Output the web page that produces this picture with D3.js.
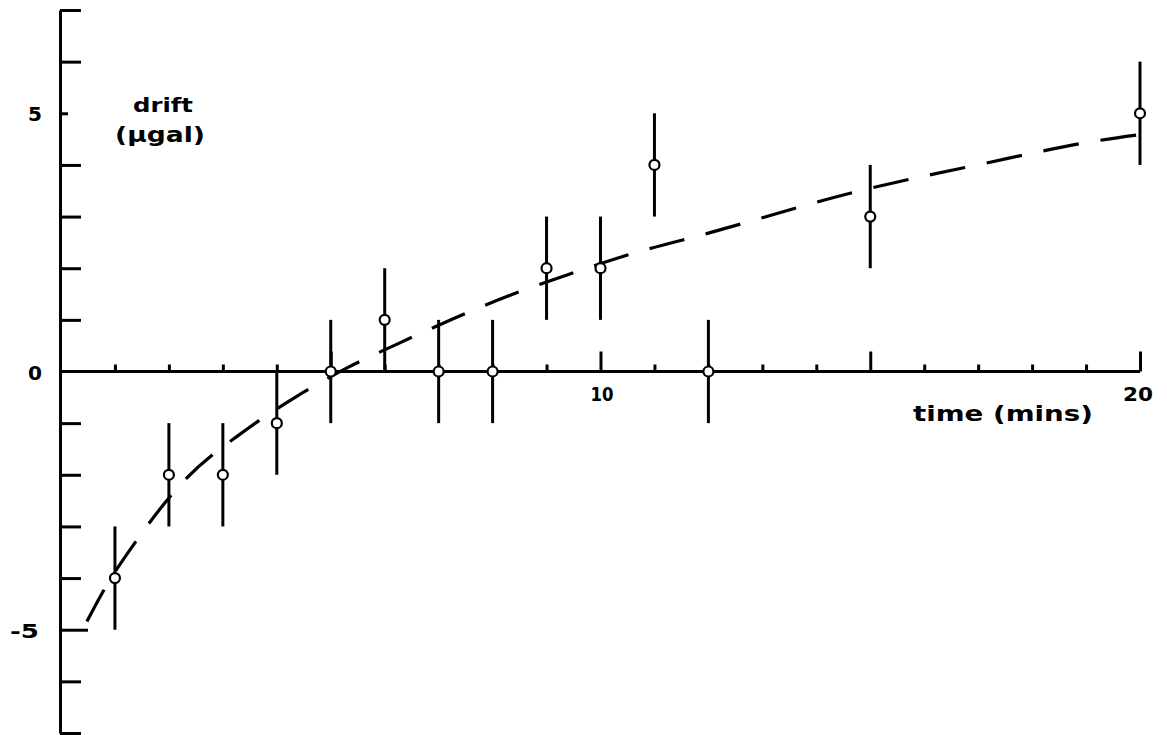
<!DOCTYPE html>
<html>
<head>
<meta charset="utf-8">
<script src="https://cdn.jsdelivr.net/npm/d3@7"></script>
<style>
  html, body { margin: 0; padding: 0; background: #fff; }
  svg { display: block; }
  text { font-family: "DejaVu Sans", sans-serif; font-weight: bold; fill: #000; }
</style>
</head>
<body>
<div id="chart"></div>
<script>
// readings: time (mins) and drift (microgal), error bars are +/- 1
var times = [1, 2, 3, 4, 5, 6, 7, 8, 9, 10, 11, 12, 15, 20];
var drifts = [-4, -2, -2, -1, 0, 1, 0, 0, 2, 2, 4, 0, 3, 5];
var errors = [1, 1, 1, 1, 1, 1, 1, 1, 1, 1, 1, 1, 1, 1];

// dashed fitted curve
var fitTime = [0.48, 0.78, 1.45, 2.26, 3.47, 4.34, 5.32, 6.25, 7.27, 8.36, 9.38, 10.58, 12.0, 14.85, 17.03, 19.22, 20.32];
var fitDrift = [-4.84, -4.26, -3.2, -2.14, -1.1, -0.5, 0.08, 0.54, 1.02, 1.49, 1.87, 2.28, 2.68, 3.51, 4.01, 4.47, 4.63];

var xTicks = d3.range(1, 21);
var yTicks = [-7, -6, -5, -4, -3, -2, -1, 1, 2, 3, 4, 5, 6, 7];
var yLabels = [5, 0, -5];
var xLabels = [10, 20];

var width = 1167, height = 735;

var svg = d3.select("#chart").append("svg")
    .attr("width", width)
    .attr("height", height);

var x = d3.scaleLinear().domain([0, 20]).range([61, 1140]);
var y = d3.scaleLinear().domain([-7, 7]).range([733, 10]);

// y axis, ticks pointing inwards
var yAxis = svg.append("g")
    .attr("transform", "translate(60,0)")
    .call(d3.axisRight(y).tickValues(yTicks).tickSize(21).tickSizeOuter(0).tickFormat(""));
yAxis.selectAll("line")
    .attr("x2", function(d) {
	if (d == 5) return 8;
	if (d == -5) return 28;
	return 21;
    });

// x axis along zero
var xAxis = svg.append("g")
    .attr("transform", "translate(0," + y(0) + ")")
    .call(d3.axisTop(x).tickValues(xTicks).tickSizeOuter(0).tickFormat(""));
xAxis.selectAll("line")
    .attr("y2", function(d) { return d % 5 == 0 ? -20 : -7; });
xAxis.select(".domain").attr("d", "M" + x(0) + ",0H" + x(20));

svg.selectAll(".domain, .tick line")
    .attr("stroke", "#000")
    .attr("stroke-width", 3);

// dashed curve
var line = d3.line()
    .x(function(d, i) { return x(fitTime[i]); })
    .y(function(d, i) { return y(fitDrift[i]); })
    .curve(d3.curveMonotoneX);
svg.append("path")
    .datum(fitTime)
    .attr("d", line)
    .attr("fill", "none")
    .attr("stroke", "#000")
    .attr("stroke-width", 3.2)
    .attr("stroke-dasharray", "36,22");

// error bars
svg.selectAll(".bar")
    .data(times)
    .enter().append("line")
    .attr("class", "bar")
    .attr("x1", function(d) { return x(d); })
    .attr("x2", function(d) { return x(d); })
    .attr("y1", function(d, i) { return y(drifts[i] + errors[i]); })
    .attr("y2", function(d, i) { return y(drifts[i] - errors[i]); })
    .attr("stroke", "#000")
    .attr("stroke-width", 3);

// points
svg.selectAll(".pt")
    .data(times)
    .enter().append("circle")
    .attr("class", "pt")
    .attr("cx", function(d) { return x(d); })
    .attr("cy", function(d, i) { return y(drifts[i]); })
    .attr("r", 5)
    .attr("fill", "#fff")
    .attr("stroke", "#000")
    .attr("stroke-width", 2.2);

// tick labels
svg.selectAll(".ylab")
    .data(yLabels)
    .enter().append("text")
    .attr("class", "ylab")
    .attr("x", function(d) { return d < 0 ? 10 : 28; })
    .attr("y", function(d) { return y(d) + 8; })
    .attr("font-size", 19)
    .attr("textLength", function(d) { return d < 0 ? 29 : 14; })
    .attr("lengthAdjust", "spacingAndGlyphs")
    .text(function(d) { return d; });

svg.selectAll(".xlab")
    .data(xLabels)
    .enter().append("text")
    .attr("class", "xlab")
    .attr("x", function(d) { return x(d) - (d == 20 ? 17 : 10); })
    .attr("y", y(0) + 29)
    .attr("font-size", 19)
    .attr("textLength", function(d) { return d == 20 ? 30 : 23; })
    .attr("lengthAdjust", "spacingAndGlyphs")
    .text(function(d) { return d; });

svg.append("text")
    .attr("x", 913)
    .attr("y", 421)
    .attr("font-size", 22)
    .attr("textLength", 180)
    .attr("lengthAdjust", "spacingAndGlyphs")
    .text("time (mins)");

svg.append("text")
    .attr("x", 133)
    .attr("y", 112)
    .attr("font-size", 20)
    .attr("textLength", 60)
    .attr("lengthAdjust", "spacingAndGlyphs")
    .text("drift");

svg.append("text")
    .attr("x", 115)
    .attr("y", 142)
    .attr("font-size", 21)
    .attr("textLength", 90)
    .attr("lengthAdjust", "spacingAndGlyphs")
    .text("(µgal)");
</script>
</body>
</html>
